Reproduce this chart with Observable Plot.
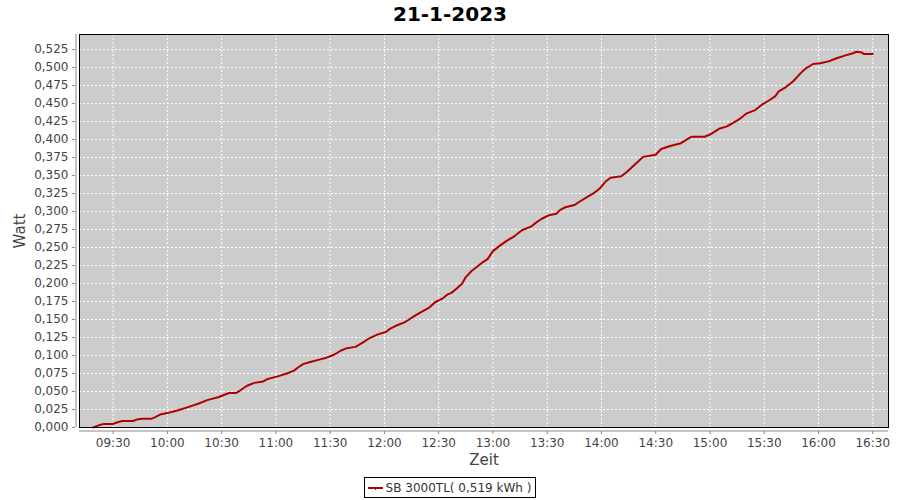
<!DOCTYPE html>
<html><head><meta charset="utf-8">
<script src="https://cdn.jsdelivr.net/npm/d3@7"></script>
<script src="https://cdn.jsdelivr.net/npm/@observablehq/plot@0.6"></script>
<style>
body{margin:0;background:#fff;font-family:"DejaVu Sans",sans-serif;width:900px;height:500px;overflow:hidden}
#title{height:28px;line-height:28px;text-align:center;font-weight:bold;font-size:20px;color:#000}
#legendWrap{display:flex;justify-content:center;margin-top:7px}
#legend{border:1px solid #000;height:19px;display:flex;align-items:center;padding:0 4px 0 1px;font-size:12px;color:#333;white-space:nowrap}
#legend svg{display:block;margin-right:0}
</style></head><body>
<div id="title"></div>
<div id="chart"></div>
<div id="legendWrap"><div id="legend"></div></div>
<script>
const chartTitle = "21-1-2023";
const seriesName = "SB 3000TL";
const totalKWh = 0.519;
const xLabel = "Zeit";
const yLabel = "Watt";
const lineColor = "#b00000";

const times = ["09:19","09:22","09:25","09:30","09:32","09:35","09:41","09:43","09:46","09:51","09:53","09:56",
"10:00","10:06","10:11","10:17","10:22","10:28","10:34","10:38","10:40","10:44","10:48","10:53","10:55",
"11:01","11:06","11:10","11:12","11:15","11:19","11:25","11:28","11:32","11:36","11:39","11:44","11:48","11:51","11:56",
"12:01","12:03","12:06","12:11","12:13","12:16","12:20","12:25","12:28","12:32","12:35","12:37","12:40","12:43","12:45","12:48","12:51","12:54","12:57",
"13:00","13:04","13:08","13:12","13:16","13:21","13:24","13:27","13:31","13:35","13:37","13:40","13:45","13:48","13:52","13:56","13:59",
"14:02","14:05","14:11","14:14","14:20","14:23","14:30","14:33","14:38","14:44","14:47","14:50","14:57",
"15:00","15:05","15:09","15:12","15:16","15:20","15:25","15:29","15:33","15:36","15:38","15:42","15:46","15:50","15:53","15:57",
"16:01","16:06","16:10","16:15","16:19","16:21","16:24","16:25","16:30"];
const watt = [0.000,0.003,0.005,0.005,0.007,0.009,0.009,0.011,0.012,0.012,0.014,0.018,
0.020,0.024,0.028,0.033,0.038,0.042,0.048,0.048,0.051,0.058,0.062,0.064,0.067,
0.071,0.075,0.079,0.083,0.088,0.091,0.095,0.097,0.101,0.107,0.110,0.112,0.118,0.123,0.129,
0.133,0.137,0.141,0.146,0.149,0.154,0.160,0.167,0.174,0.179,0.185,0.187,0.193,0.200,0.209,0.217,0.223,0.229,0.234,
0.245,0.253,0.260,0.266,0.274,0.279,0.285,0.290,0.295,0.297,0.302,0.306,0.309,0.314,0.320,0.326,0.332,
0.341,0.347,0.349,0.355,0.369,0.376,0.379,0.387,0.391,0.395,0.400,0.404,0.404,
0.407,0.415,0.418,0.422,0.428,0.436,0.441,0.449,0.455,0.460,0.467,0.473,0.481,0.492,0.499,0.505,
0.506,0.509,0.513,0.517,0.520,0.522,0.521,0.519,0.519];
const xTicks = ["09:30","10:00","10:30","11:00","11:30","12:00","12:30","13:00","13:30","14:00","14:30","15:00","15:30","16:00","16:30"];
const yTicks = [0,0.025,0.05,0.075,0.1,0.125,0.15,0.175,0.2,0.225,0.25,0.275,0.3,0.325,0.35,0.375,0.4,0.425,0.45,0.475,0.5,0.525];

const toDate = s => { const [h,m,sec] = s.split(":").map(Number); return new Date(Date.UTC(2023,0,21,h,m,sec||0)); };
const data = times.map((t,i) => ({time: toDate(t), value: watt[i]}));
const xTickDates = xTicks.map(toDate);
const xDomain = [toDate("09:11:24"), toDate("16:38:42")];
const fmtComma = v => d3.format(".3f")(v).replace(".", ",");

document.getElementById("title").textContent = chartTitle;

const chart = Plot.plot({
  width: 900, height: 442,
  marginLeft: 79, marginRight: 12, marginTop: 6, marginBottom: 43,
  style: {fontFamily: "DejaVu Sans", fontSize: "12px", background: "white", color: "#444"},
  x: {type: "utc", domain: xDomain, label: null},
  y: {domain: [0, 0.546], label: null},
  marks: [
    Plot.frame({fill: "#cccccc", stroke: null}),
    Plot.gridX(xTickDates, {stroke: "white", strokeOpacity: 1, strokeDasharray: "2,2"}),
    Plot.gridY(yTicks, {stroke: "white", strokeOpacity: 1, strokeDasharray: "2,2"}),
    Plot.ruleX([xDomain[0]], {dx: -3.5, stroke: "#888"}),
    Plot.ruleY([0], {dy: 3.5, stroke: "#888"}),
    Plot.axisX(xTickDates, {tickSize: 3, tickPadding: 4, dy: 4, tickFormat: d3.utcFormat("%H:%M"), stroke: "#888", fill: "#444", label: null}),
    Plot.axisY(yTicks, {tickSize: 3, tickPadding: 4, dx: -4, tickFormat: fmtComma, stroke: "#888", fill: "#444", label: null}),
    Plot.line(data, {x: "time", y: "value", stroke: lineColor, strokeWidth: 2}),
    Plot.frame({stroke: "#000"}),
    Plot.text([xLabel], {text: d => d, frameAnchor: "bottom", textAnchor: "middle", lineAnchor: "middle", dy: 33, fontSize: 15, fill: "#444"}),
    Plot.text([yLabel], {text: d => d, frameAnchor: "left", textAnchor: "middle", lineAnchor: "middle", dx: -59, rotate: -90, fontSize: 15, fill: "#444"})
  ]
});
document.getElementById("chart").appendChild(chart);

const legend = document.getElementById("legend");
legend.innerHTML = `<svg width="20" height="19"><line x1="2" x2="17" y1="10" y2="10" stroke="${lineColor}" stroke-width="2"/><rect x="9" y="10" width="1" height="2" fill="${lineColor}"/></svg><span>${seriesName}( ${fmtComma(totalKWh)} kWh )</span>`;
</script>
</body></html>
